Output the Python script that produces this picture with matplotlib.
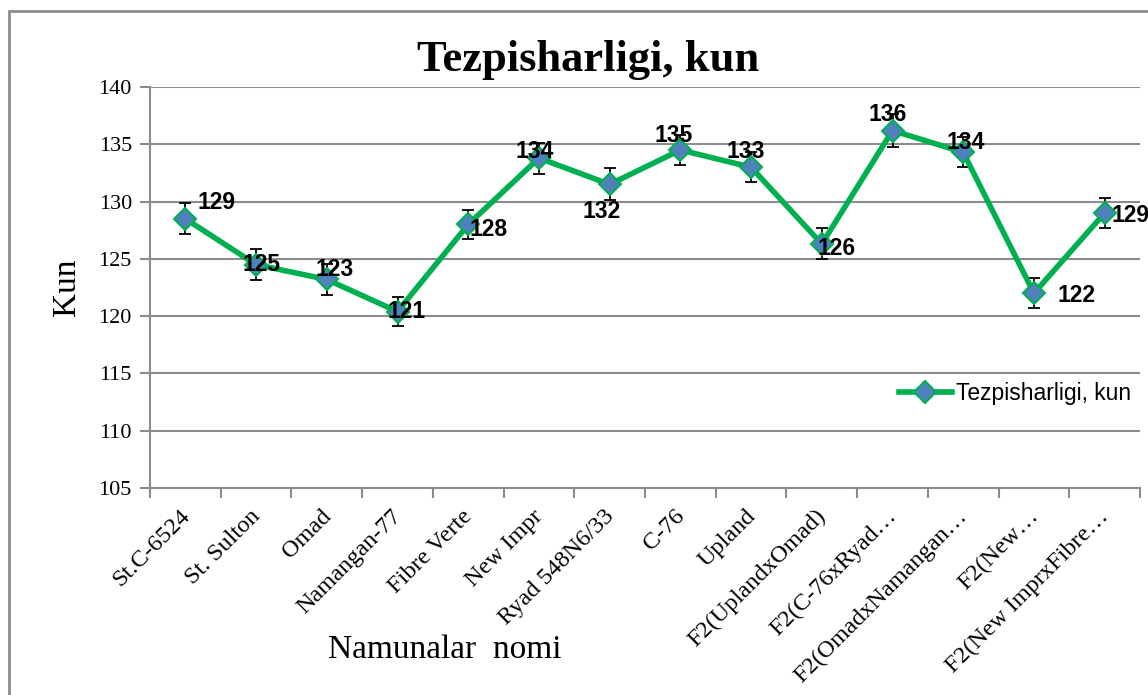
import matplotlib.pyplot as plt
from matplotlib.patches import Rectangle
from matplotlib.transforms import ScaledTranslation
import numpy as np

# chart data
categories = ["St.C-6524", "St. Sulton", "Omad", "Namangan-77", "Fibre Verte",
              "New Impr", "Ryad 548N6/33", "C-76", "Upland", "F2(UplandxOmad)",
              "F2(C-76xRyad…", "F2(OmadxNamangan…", "F2(New…", "F2(New ImprxFibre…"]
values = [128.5, 124.5, 123.2, 120.4, 128.0, 133.8, 131.5, 134.5, 133.0, 126.3,
          136.2, 134.3, 122.0, 129.0]
errors = [1.35, 1.35, 1.35, 1.3, 1.3, 1.35, 1.4, 1.3, 1.3, 1.35, 1.4, 1.3, 1.3, 1.3]
labels = ["129", "125", "123", "121", "128", "134", "132", "135", "133", "126",
          "136", "134", "122", "129"]
series_name = "Tezpisharligi, kun"
yticks = [105, 110, 115, 120, 125, 130, 135, 140]

# label offsets in pixels (dx, dy) from each point
label_offsets = [(31, 16), (5, 0), (8, 10), (9, 0), (20, -5), (-4, 7), (-8, -27),
                 (-7, 15), (-5, 16), (15, -5), (-5, 16), (2, 10), (43, -2), (26, -2)]

GREEN = "#00B050"
BLUE = "#4F81BD"
GRAY = "#8C8C8C"
serif = "Liberation Serif"
sans = "Liberation Sans"

fig = plt.figure(figsize=(11.48, 6.95), dpi=100)
ax = fig.add_axes([150 / 1148, 1 - 488 / 695, 990 / 1148, 401 / 695])

# outer chart border (only left and top are visible)
fig.patches.append(Rectangle((9 / 1148, -0.1), 1.2, 1 - 11 / 695 + 0.1,
                             transform=fig.transFigure, fill=False,
                             edgecolor=GRAY, lw=2))

x = np.arange(len(categories))
ax.errorbar(x, values, yerr=errors, fmt="none", ecolor="black", elinewidth=1.3,
            capsize=4, capthick=1.3, zorder=2)
ax.plot(x, values, color=GREEN, lw=4, marker="D", markersize=11,
        markerfacecolor=BLUE, markeredgecolor=GREEN, markeredgewidth=1.5,
        label=series_name, zorder=3)

for xi, yi, lab, (dx, dy) in zip(x, values, labels, label_offsets):
    ax.annotate(lab, (xi, yi), xytext=(dx, dy), textcoords="offset pixels",
                ha="center", va="center", fontsize=16.5, fontweight="bold",
                family=sans, annotation_clip=False, zorder=4)

ax.set_xlim(-0.5, len(categories) - 0.5)
ax.set_ylim(105, 140)
ax.set_yticks(yticks)
ax.set_yticklabels([str(t) for t in yticks], family=serif, fontsize=16)
ax.grid(axis="y", color=GRAY, lw=1.5)
ax.set_axisbelow(True)

ax.set_xticks(x)
ax.set_xticklabels(categories, rotation=45, ha="right", va="baseline",
                   rotation_mode="anchor", family=serif, fontsize=17.5)
ax.set_xticks(np.arange(len(categories) + 1) - 0.5, minor=True)
ax.tick_params(axis="x", which="major", length=0, pad=21)
ax.tick_params(axis="x", which="minor", length=7, width=1.5, color=GRAY)
ax.tick_params(axis="y", length=7, width=1.5, color=GRAY, pad=6)
shift = ScaledTranslation(5 / 100, 0, fig.dpi_scale_trans)
for t in ax.get_xticklabels():
    t.set_transform(t.get_transform() + shift)

for s in ["top", "right"]:
    ax.spines[s].set_visible(False)
for s in ["left", "bottom"]:
    ax.spines[s].set_color(GRAY)
    ax.spines[s].set_linewidth(1.5)

ax.set_ylabel("Kun", family=serif, fontsize=24, labelpad=12)
fig.text(445 / 1148, 1 - 650 / 695, "Namunalar  nomi", family=serif, fontsize=24,
         ha="center", va="center")
fig.text(588 / 1148, 1 - 60 / 695, "Tezpisharligi, kun", family=serif, fontsize=32,
         fontweight="bold", ha="center", va="center")

ax.legend(loc="center right", bbox_to_anchor=(1.012, 0.235), frameon=False,
          prop={"family": sans, "size": 16.5}, handlelength=2.3, handletextpad=0.2)

fig.savefig("out.png", dpi=100)
